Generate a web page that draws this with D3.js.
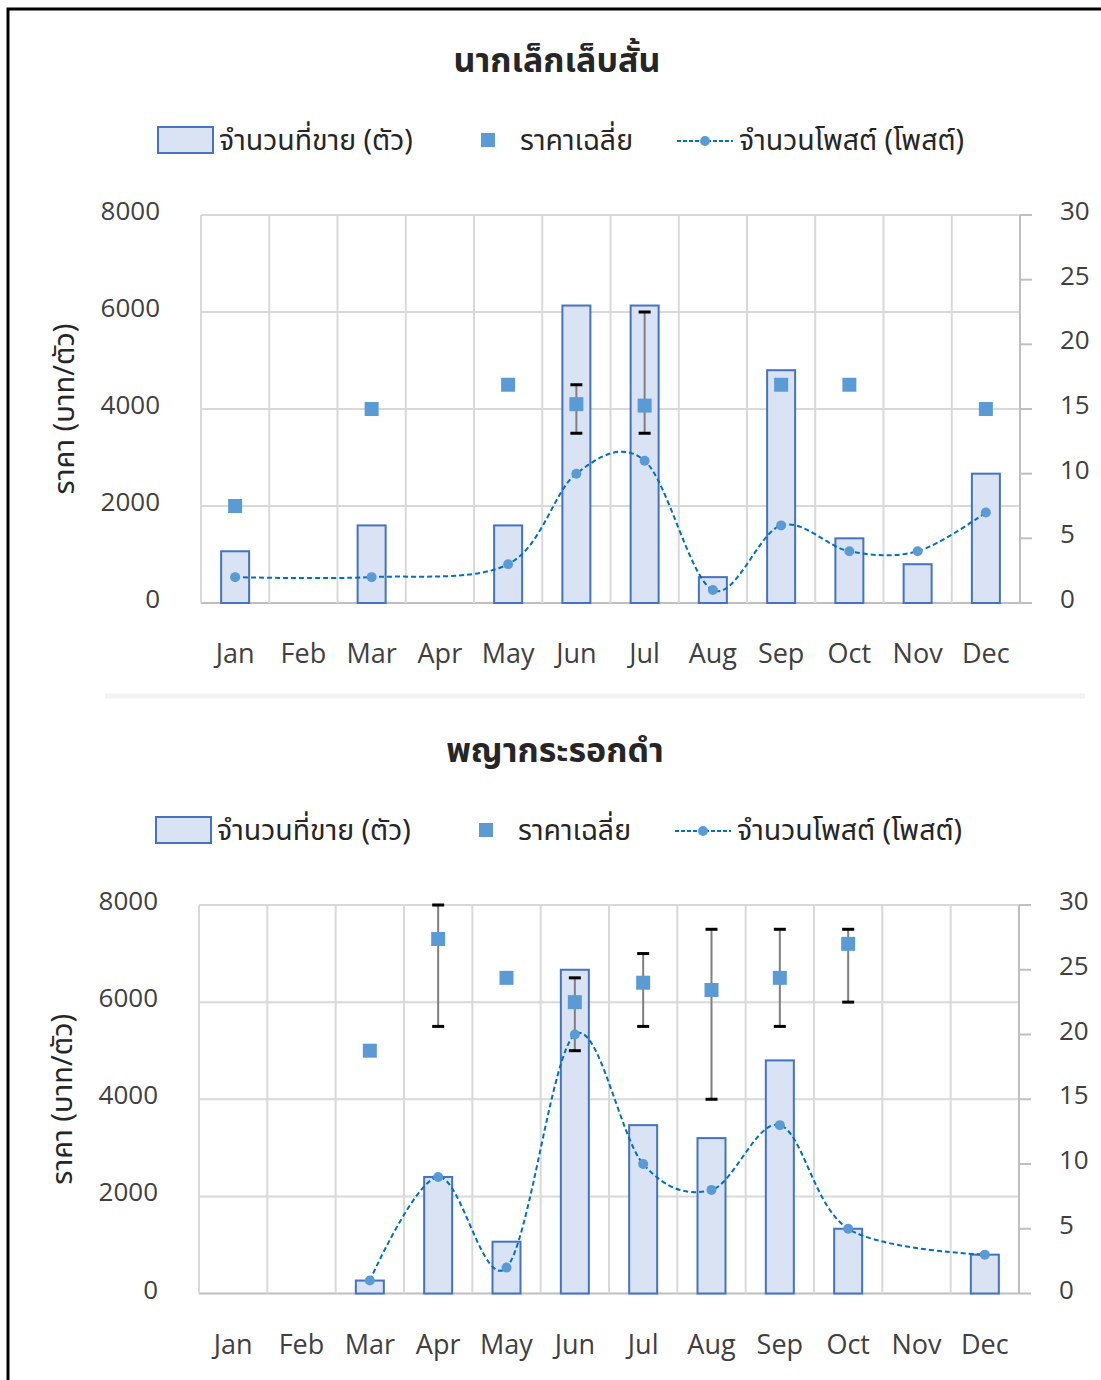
<!DOCTYPE html>
<html>
<head>
<meta charset="utf-8">
<script src="https://cdn.jsdelivr.net/npm/d3@7"></script>
<style>
  body { margin: 0; background: #fff; }
  svg { display: block; }
  text { font-family: "Open Sans", "Noto Sans", sans-serif; fill: #404040; }
  .thai { font-family: "Noto Sans Thai", "Leelawadee UI", "Tahoma", "Noto Sans", sans-serif; fill: #262626; }
</style>
</head>
<body>
<svg id="chart"></svg>
<script>
// months + axis ticks
const months = ['Jan','Feb','Mar','Apr','May','Jun','Jul','Aug','Sep','Oct','Nov','Dec'];
const leftTicks = [0, 2000, 4000, 6000, 8000];
const rightTicks = [0, 5, 10, 15, 20, 25, 30];

// legend labels
const legendSold = 'จำนวนที่ขาย (ตัว)';
const legendPrice = 'ราคาเฉลี่ย';
const legendPosts = 'จำนวนโพสต์ (โพสต์)';
const yTitle = 'ราคา (บาท/ตัว)';

// chart 1 : นากเล็กเล็บสั้น
const minkTitle = 'นากเล็กเล็บสั้น';
const minkSold  = [4, null, 6, null, 6, 23, 23, 2, 18, 5, 3, 10];
const minkPrice = [2000, null, 4000, null, 4500, 4100, 4070, null, 4500, 4500, null, 4000];
const minkPosts = [2, null, 2, null, 3, 10, 11, 1, 6, 4, 4, 7];
const minkErrLow  = [null, null, null, null, null, 3500, 3500, null, null, null, null, null];
const minkErrHigh = [null, null, null, null, null, 4500, 6000, null, null, null, null, null];

// chart 2 : พญากระรอกดำ
const squirrelTitle = 'พญากระรอกดำ';
const squirrelSold  = [null, null, 1, 9, 4, 25, 13, 12, 18, 5, null, 3];
const squirrelPrice = [null, null, 5000, 7300, 6500, 6000, 6400, 6250, 6500, 7200, null, null];
const squirrelPosts = [null, null, 1, 9, 2, 20, 10, 8, 13, 5, null, 3];
const squirrelErrLow  = [null, null, null, 5500, null, 5000, 5500, 4000, 5500, 6000, null, null];
const squirrelErrHigh = [null, null, null, 8000, null, 6500, 7000, 7500, 7500, 7500, null, null];

const W = 1101, H = 1380;
const barFill = '#dae3f3', barStroke = '#4472c4';
const markerColor = '#5b9bd5', lineColor = '#0070c0';
const gridColor = '#d9d9d9', axisColor = '#bfbfbf';

const svg = d3.select('#chart').attr('width', W).attr('height', H);

// frame from the screenshot
svg.append('path')
  .attr('d', `M8,${H} V9 H${W}`)
  .attr('fill', 'none').attr('stroke', '#000').attr('stroke-width', 3);

// faint separator strip between the two charts
svg.append('line')
  .attr('x1', 105).attr('x2', 1085).attr('y1', 696).attr('y2', 696)
  .attr('stroke', '#f2f2f2').attr('stroke-width', 5);

function drawChart(cfg) {
  const g = svg.append('g');
  const left = cfg.left, right = cfg.right, top = cfg.top, bottom = cfg.bottom;

  const x = d3.scaleBand().domain(months).range([left, right]);
  const yL = d3.scaleLinear().domain([0, 8000]).range([bottom, top]);
  const yR = d3.scaleLinear().domain([0, 30]).range([bottom, top]);
  const cx = i => x(months[i]) + x.bandwidth() / 2;

  // title
  g.append('text').attr('class', 'thai')
    .attr('x', left + 356).attr('y', top - 143)
    .attr('text-anchor', 'middle')
    .attr('font-size', 34).attr('font-weight', 'bold')
    .text(cfg.title);

  // legend
  const ly = top - 75;
  const lg = g.append('g').attr('class', 'legend');
  lg.append('rect').attr('x', left - 43).attr('y', ly - 13).attr('width', 55).attr('height', 26)
    .attr('fill', barFill).attr('stroke', barStroke).attr('stroke-width', 2);
  lg.append('text').attr('class', 'thai').attr('x', left + 18).attr('y', ly + 10)
    .attr('font-size', 28.5).text(legendSold);
  lg.append('rect').attr('x', left + 280).attr('y', ly - 7).attr('width', 14).attr('height', 14)
    .attr('fill', markerColor);
  lg.append('text').attr('class', 'thai').attr('x', left + 319).attr('y', ly + 10)
    .attr('font-size', 28.5).text(legendPrice);
  lg.append('line').attr('x1', left + 476).attr('x2', left + 532).attr('y1', ly + 1).attr('y2', ly + 1)
    .attr('stroke', lineColor).attr('stroke-width', 2).attr('stroke-dasharray', '4,2');
  lg.append('circle').attr('cx', left + 504).attr('cy', ly + 1).attr('r', 5).attr('fill', markerColor);
  lg.append('text').attr('class', 'thai').attr('x', left + 538).attr('y', ly + 10)
    .attr('font-size', 28.5).text(legendPosts);

  // gridlines
  g.append('g').selectAll('line').data(leftTicks).join('line')
    .attr('x1', left).attr('x2', right)
    .attr('y1', d => yL(d)).attr('y2', d => yL(d))
    .attr('stroke', d => d === 0 ? axisColor : gridColor).attr('stroke-width', 2);
  g.append('g').selectAll('line').data(d3.range(months.length + 1)).join('line')
    .attr('x1', i => left + i * x.step()).attr('x2', i => left + i * x.step())
    .attr('y1', top).attr('y2', bottom)
    .attr('stroke', i => i === months.length ? axisColor : gridColor).attr('stroke-width', 2);

  // left axis labels
  g.append('g').selectAll('text').data(leftTicks).join('text')
    .attr('x', left - 41).attr('y', d => yL(d) + 5)
    .attr('text-anchor', 'end').attr('font-size', 26)
    .text(d => d);

  // right axis ticks + labels
  g.append('g').selectAll('line').data(rightTicks).join('line')
    .attr('x1', right).attr('x2', right + 12)
    .attr('y1', d => yR(d)).attr('y2', d => yR(d))
    .attr('stroke', axisColor).attr('stroke-width', 2);
  g.append('g').selectAll('text').data(rightTicks).join('text')
    .attr('x', right + 40).attr('y', d => yR(d) + 5)
    .attr('font-size', 26)
    .text(d => d);

  // month labels
  g.append('g').selectAll('text').data(months).join('text')
    .attr('x', d => x(d) + x.bandwidth() / 2).attr('y', bottom + 60)
    .attr('text-anchor', 'middle').attr('font-size', 27)
    .text(d => d);

  // y title
  g.append('text').attr('class', 'thai')
    .attr('transform', `translate(${left - 127},${(top + bottom) / 2}) rotate(-90)`)
    .attr('text-anchor', 'middle').attr('font-size', 29)
    .text(yTitle);

  // bars (sold, right axis)
  const bw = 28;
  const sold = cfg.sold.map((v, i) => ({v, i})).filter(d => d.v !== null);
  g.append('g').selectAll('rect').data(sold).join('rect')
    .attr('x', d => cx(d.i) - bw / 2).attr('width', bw)
    .attr('y', d => yR(d.v)).attr('height', d => bottom - yR(d.v))
    .attr('fill', barFill).attr('stroke', barStroke).attr('stroke-width', 2);

  // error bars on price
  const errs = cfg.errLow.map((lo, i) => ({lo, hi: cfg.errHigh[i], i})).filter(d => d.lo !== null);
  const eg = g.append('g');
  eg.selectAll('line.stem').data(errs).join('line').attr('class', 'stem')
    .attr('x1', d => cx(d.i)).attr('x2', d => cx(d.i))
    .attr('y1', d => yL(d.lo)).attr('y2', d => yL(d.hi))
    .attr('stroke', '#7f7f7f').attr('stroke-width', 2);
  eg.selectAll('line.capLo').data(errs).join('line').attr('class', 'capLo')
    .attr('x1', d => cx(d.i) - 6).attr('x2', d => cx(d.i) + 6)
    .attr('y1', d => yL(d.lo)).attr('y2', d => yL(d.lo))
    .attr('stroke', '#000').attr('stroke-width', 3);
  eg.selectAll('line.capHi').data(errs).join('line').attr('class', 'capHi')
    .attr('x1', d => cx(d.i) - 6).attr('x2', d => cx(d.i) + 6)
    .attr('y1', d => yL(d.hi)).attr('y2', d => yL(d.hi))
    .attr('stroke', '#000').attr('stroke-width', 3);

  // price squares (left axis)
  const price = cfg.price.map((v, i) => ({v, i})).filter(d => d.v !== null);
  g.append('g').selectAll('rect').data(price).join('rect')
    .attr('x', d => cx(d.i) - 7).attr('y', d => yL(d.v) - 7)
    .attr('width', 14).attr('height', 14)
    .attr('fill', markerColor);

  // posts: smoothed dashed line (right axis)
  const posts = cfg.posts.map((v, i) => ({v, i})).filter(d => d.v !== null);
  const line = d3.line()
    .x(d => cx(d.i)).y(d => yR(d.v))
    .curve(d3.curveCardinal.tension(0));
  g.append('path').datum(posts)
    .attr('d', line)
    .attr('fill', 'none').attr('stroke', lineColor)
    .attr('stroke-width', 2).attr('stroke-dasharray', '5,3');
  g.append('g').selectAll('circle').data(posts).join('circle')
    .attr('cx', d => cx(d.i)).attr('cy', d => yR(d.v)).attr('r', 5)
    .attr('fill', markerColor);
}

drawChart({
  title: minkTitle, left: 201, right: 1020, top: 215, bottom: 603,
  sold: minkSold, price: minkPrice, posts: minkPosts,
  errLow: minkErrLow, errHigh: minkErrHigh
});

drawChart({
  title: squirrelTitle, left: 199, right: 1019, top: 905, bottom: 1293.5,
  sold: squirrelSold, price: squirrelPrice, posts: squirrelPosts,
  errLow: squirrelErrLow, errHigh: squirrelErrHigh
});
</script>
</body>
</html>
